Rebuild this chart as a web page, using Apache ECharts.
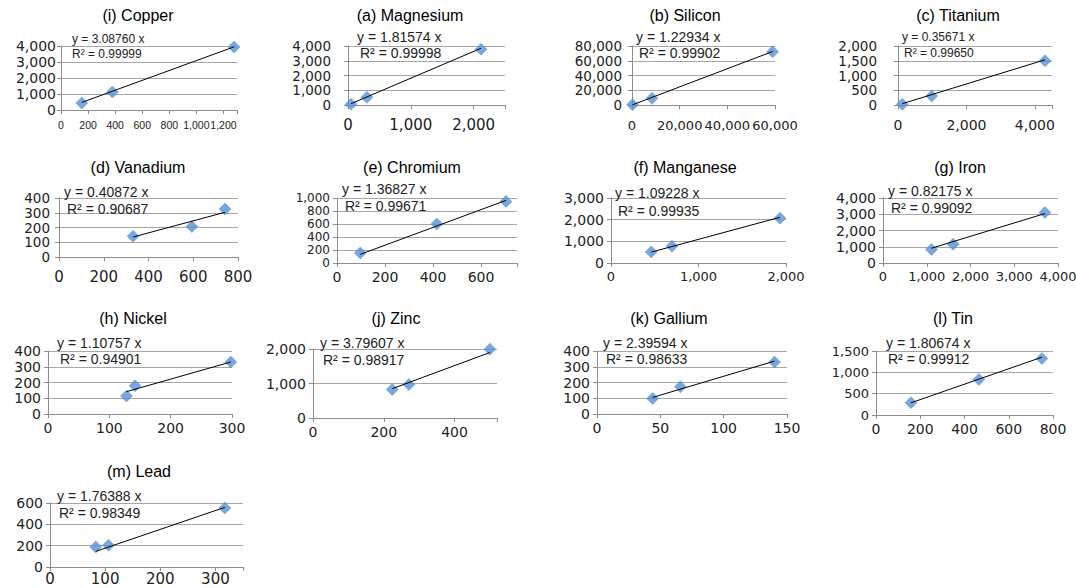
<!DOCTYPE html>
<html>
<head>
<meta charset="utf-8">
<script src="https://cdn.jsdelivr.net/npm/echarts@6/dist/echarts.min.js"></script>
<style>
html,body{margin:0;padding:0;background:#fff;}
#chart{width:1076px;height:588px;}
</style>
</head>
<body>
<div id="chart"></div>
<script>
// ---------- DATA ----------
const panelTitles = ['(i) Copper','(a) Magnesium','(b) Silicon','(c) Titanium','(d) Vanadium','(e) Chromium','(f) Manganese','(g) Iron','(h) Nickel','(j) Zinc','(k) Gallium','(l) Tin','(m) Lead'];

const copperX = [153, 380, 1278];      const copperY = [437, 1125, 3937];
const magnesiumX = [48, 302, 2118];    const magnesiumY = [47, 522, 3776];
const siliconX = [200, 8400, 59000];   const siliconY = [400, 9080, 72300];
const titaniumX = [126, 985, 4295];    const titaniumY = [24, 305, 1502];
const vanadiumX = [331, 594, 742];     const vanadiumY = [140, 207, 325];
const chromiumX = [97, 416, 704];      const chromiumY = [155, 601, 947];
const manganeseX = [460, 697, 1931];   const manganeseY = [512, 778, 2068];
const ironX = [1108, 1603, 3702];      const ironY = [832, 1161, 3106];
const nickelX = [128, 142, 298];       const nickelY = [114, 179, 330];
const zincX = [224, 271, 500];         const zincY = [827, 972, 1995];
const galliumX = [43.9, 65.8, 140.2];  const galliumY = [99, 172.5, 330];
const tinX = [158, 465, 750];          const tinY = [287, 833, 1323];
const leadX = [83, 106, 317];          const leadY = [187.5, 203, 553];

const slopes = [3.08760, 1.81574, 1.22934, 0.35671, 0.40872, 1.36827, 1.09228, 0.82175, 1.10757, 3.79607, 2.39594, 1.80674, 1.76388];
const rSquared = [0.99999, 0.99998, 0.99902, 0.99650, 0.90687, 0.99671, 0.99935, 0.99092, 0.94901, 0.98917, 0.98633, 0.99912, 0.98349];

const xMax  = [1300, 2500, 60000, 4500, 800, 750, 2000, 4000, 300, 520, 150, 800, 350];
const xStep = [200, 1000, 20000, 2000, 200, 200, 1000, 1000, 100, 200, 50, 200, 100];
const yMax  = [4000, 4000, 80000, 2000, 400, 1000, 3000, 4000, 400, 2000, 400, 1500, 600];
const yStep = [1000, 1000, 20000, 500, 100, 200, 1000, 1000, 100, 1000, 100, 500, 200];

const xSeries = [copperX, magnesiumX, siliconX, titaniumX, vanadiumX, chromiumX, manganeseX, ironX, nickelX, zincX, galliumX, tinX, leadX];
const ySeries = [copperY, magnesiumY, siliconY, titaniumY, vanadiumY, chromiumY, manganeseY, ironY, nickelY, zincY, galliumY, tinY, leadY];

// ---------- LAYOUT (positions / styles) ----------
const layout = [
  {l:61,  t:46,  w:176, h:64, tx:138,  ty:16,  ex:72,  ey:39,  rx:72,  ry:54,  ef:12, yf:14, xf:10.5, xfam:'Liberation Sans', ym:5,  xm:9},
  {l:348, t:46,  w:157, h:59, tx:410,  ty:16,  ex:357, ey:37,  rx:360, ry:53,  ef:14, yf:13.5, xf:15, ym:17, xm:12},
  {l:632, t:46,  w:143, h:59, tx:685,  ty:16,  ex:636, ey:37,  rx:639, ry:53,  ef:14, yf:13.5, xf:13, ym:10, xm:14},
  {l:898, t:46,  w:154, h:59, tx:958,  ty:16,  ex:902, ey:37,  rx:904, ry:53,  ef:12, yf:13.5, xf:14, ym:21, xm:13},
  {l:59,  t:198, w:179, h:59, tx:138,  ty:168, ex:64,  ey:192, rx:67,  ry:209, ef:14, yf:13.5, xf:15, ym:9,  xm:12},
  {l:337, t:198, w:180, h:65, tx:412,  ty:168, ex:342, ey:189, rx:345, ry:206, ef:14, yf:12, xf:14, ym:7,  xm:7},
  {l:611, t:198, w:175, h:65, tx:685,  ty:168, ex:615, ey:193, rx:618, ry:211, ef:14, yf:14, xf:13, ym:7,  xm:7},
  {l:883, t:198, w:175, h:65, tx:960,  ty:168, ex:888, ey:191, rx:891, ry:208, ef:14, yf:14, xf:13, ym:7,  xm:7},
  {l:48,  t:351, w:184, h:63, tx:133,  ty:319, ex:57,  ey:343, rx:60,  ry:359, ef:14, yf:14, xf:14, ym:7,  xm:7},
  {l:313, t:349, w:184, h:69, tx:396,  ty:319, ex:320, ey:343, rx:323, ry:360, ef:14, yf:14, xf:14, ym:7,  xm:7},
  {l:597, t:351, w:190, h:63, tx:669,  ty:319, ex:603, ey:343, rx:606, ry:359, ef:14, yf:14, xf:14, ym:7,  xm:7},
  {l:876, t:351, w:177, h:64, tx:953,  ty:319, ex:886, ey:343, rx:888, ry:359, ef:14, yf:13, xf:14, ym:7,  xm:7},
  {l:50,  t:503, w:193, h:64, tx:139,  ty:472, ex:57,  ey:496, rx:59,  ry:513, ef:14, yf:14, xf:15, ym:7,  xm:4}
];

const MARKER = '#5591D4';
const GRID_LINE = '#a6a6a6';
const AXIS_LINE = '#8c8c8c';
const TEXT = '#222';
const fmt = v => String(v).replace(/\B(?=(\d{3})+(?!\d))/g, ',');

const grids = [], xAxes = [], yAxes = [], series = [], titles = [], graphics = [];

panelTitles.forEach((name, i) => {
  const L = layout[i];
  grids.push({left:L.l, top:L.t, width:L.w, height:L.h, containLabel:false, outerBoundsMode:'none'});
  const xs = xStep[i], ys = yStep[i];
  xAxes.push({
    gridIndex:i, type:'value', min:0, max:xMax[i], interval:xs,
    axisLine:{show:true, onZero:false, lineStyle:{color:AXIS_LINE, width:1}},
    axisTick:{show:true, length:4, inside:false, interval:0, lineStyle:{color:AXIS_LINE}},
    splitLine:{show:false},
    axisLabel:{show:true, interval:0, margin:L.xm, fontSize:L.xf, fontFamily:L.xfam || 'DejaVu Sans', color:TEXT,
      showMinLabel:true, showMaxLabel:true, hideOverlap:false,
      formatter: v => (Math.abs(v / xs - Math.round(v / xs)) < 1e-9 ? fmt(v) : '')}
  });
  yAxes.push({
    gridIndex:i, type:'value', min:0, max:yMax[i], interval:ys,
    axisLine:{show:true, onZero:false, lineStyle:{color:AXIS_LINE, width:1}},
    axisTick:{show:true, length:4, inside:false, interval:0, lineStyle:{color:AXIS_LINE}},
    splitLine:{show:true, interval:0, lineStyle:{color:GRID_LINE, width:1}},
    axisLabel:{show:true, interval:0, margin:L.ym, fontSize:L.yf, fontFamily:'DejaVu Sans', color:TEXT,
      showMinLabel:true, showMaxLabel:true, hideOverlap:false,
      formatter: v => fmt(v)}
  });
  const pts = xSeries[i].map((x, k) => [x, ySeries[i][k]]);
  series.push({
    name: name, type:'scatter', xAxisIndex:i, yAxisIndex:i,
    symbol:'diamond', symbolSize:12,
    itemStyle:{color:MARKER, borderColor:'#4a84c8', borderWidth:0.5},
    data: pts, z:2, silent:true
  });
  const x0 = Math.min(...xSeries[i]), x1 = Math.max(...xSeries[i]);
  series.push({
    name: name + ' trend', type:'line', xAxisIndex:i, yAxisIndex:i,
    symbol:'none', lineStyle:{color:'#000', width:1},
    data: [[x0, slopes[i] * x0], [x1, slopes[i] * x1]], z:3, silent:true
  });
  titles.push({
    text:name, left:L.tx, top:L.ty - 9, padding:0, textAlign:'center', textVerticalAlign:'top',
    textStyle:{fontSize:16, fontWeight:'normal', fontFamily:'Liberation Sans', color:'#000'}
  });
  graphics.push({
    type:'text', x:L.ex, y:L.ey, z:10,
    style:{text:'y = ' + slopes[i].toFixed(5) + ' x', fontSize:L.ef, fontFamily:'Liberation Sans',
      fill:TEXT, align:'left', verticalAlign:'middle'}
  });
  graphics.push({
    type:'text', x:L.rx, y:L.ry, z:10,
    style:{text:'R\u00B2 = ' + rSquared[i].toFixed(5), fontSize:L.ef, fontFamily:'Liberation Sans',
      fill:TEXT, align:'left', verticalAlign:'middle'}
  });
});

const chart = echarts.init(document.getElementById('chart'), null, {renderer:'svg', width:1076, height:588});
chart.setOption({
  animation:false,
  backgroundColor:'#fff',
  title: titles,
  grid: grids,
  xAxis: xAxes,
  yAxis: yAxes,
  series: series,
  graphic: graphics
});
</script>
</body>
</html>
